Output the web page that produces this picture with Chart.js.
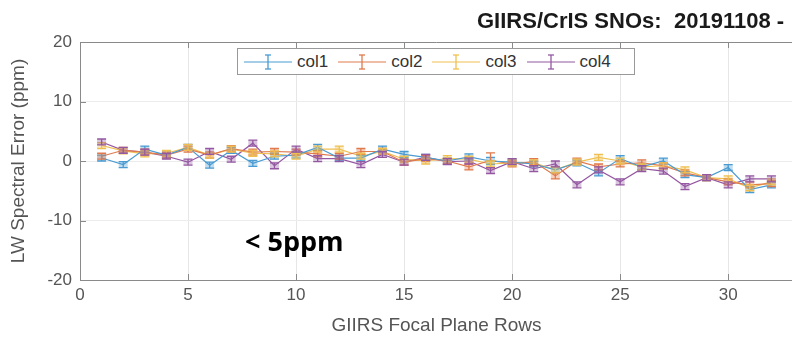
<!DOCTYPE html>
<html>
<head>
<meta charset="utf-8">
<script src="https://cdn.jsdelivr.net/npm/chart.js@4.4.1/dist/chart.umd.min.js"></script>
<style>
    body{margin:0;width:792px;height:337px;overflow:hidden;background:#fff;position:relative;font-family:"Liberation Sans",sans-serif}
    #wrap{position:absolute;left:0;top:0;width:830px;height:337px}
    .title{position:absolute;top:8px;font-size:22px;font-weight:bold;color:#1a1a1a;white-space:nowrap}
    #note{position:absolute;left:245px;top:227px;font-family:"Open Sans",sans-serif;font-weight:bold;font-size:27px;line-height:27px;color:#000}
    #legend{position:absolute;left:237px;top:48px;width:398px;height:27px;border:1px solid #999;background:#fff;box-sizing:border-box;display:flex;align-items:center;padding-left:6px}
    .item{display:flex;align-items:center;margin-right:10px;font-size:17px;color:#333}
    .item svg{margin-right:5px}
</style>
</head>
<body>
<div id="wrap"><canvas id="snoChart" width="830" height="337"></canvas></div>
<div class="title" style="left:477px">GIIRS/CrIS SNOs:</div>
<div class="title" style="left:674px">20191108 -</div>
<div id="legend"></div>
<div id="note">&lt; 5ppm</div>
<script>
    const rows = [1,2,3,4,5,6,7,8,9,10,11,12,13,14,15,16,17,18,19,20,21,22,23,24,25,26,27,28,29,30,31,32]
    const col1 = [0.5,-0.6,2.0,1.0,2.3,-0.7,1.8,-0.4,0.8,1.0,2.3,0.5,0.5,2.0,1.1,0.6,0.0,0.7,0.0,-0.2,-0.5,-1.5,-0.3,-2.0,0.4,-1.0,0.0,-2.3,-2.8,-1.1,-4.8,-4.0]
    const col2 = [0.8,1.8,1.5,1.0,2.0,1.0,2.1,1.5,1.6,1.5,1.2,0.8,1.6,1.6,-0.2,0.4,0.0,-1.0,0.1,-0.5,-0.1,-2.5,0.0,-1.0,-0.5,-0.3,-0.8,-2.0,-2.8,-3.5,-4.0,-3.8]
    const col3 = [2.6,1.7,1.2,1.3,2.3,1.0,2.0,1.3,1.2,0.8,2.0,2.0,0.8,1.6,0.3,0.0,0.4,0.3,-0.5,-0.3,-0.3,-1.5,-0.2,0.6,0.0,-1.0,-0.8,-1.5,-2.8,-3.0,-4.5,-3.5]
    const col4 = [3.2,1.8,1.5,0.8,-0.2,1.6,0.3,3.0,-0.8,2.0,0.4,0.4,-0.6,1.1,-0.2,0.6,-0.1,0.0,-1.6,-0.1,-1.3,-0.5,-4.0,-1.5,-3.5,-1.3,-1.7,-4.3,-2.8,-4.0,-3.0,-3.0]
    const err1 = [0.5,0.5,0.5,0.5,0.5,0.5,0.5,0.5,0.5,0.5,0.5,0.5,0.5,0.5,0.5,0.5,0.5,0.5,0.6,0.5,0.5,0.5,0.5,0.5,0.5,0.5,0.5,0.5,0.5,0.5,0.5,0.5]
    const err2 = [0.5,0.5,0.5,0.5,0.5,0.5,0.5,0.5,0.5,0.5,0.5,0.5,0.5,0.5,0.5,0.5,0.5,0.5,1.25,0.5,0.5,0.5,0.5,0.5,0.5,0.5,0.5,0.5,0.5,0.5,0.5,0.5]
    const err3 = [0.5,0.5,0.5,0.5,0.5,0.5,0.5,0.5,0.5,0.5,0.5,0.5,0.5,0.5,0.5,0.5,0.5,0.5,0.5,0.5,0.5,0.5,0.5,0.5,0.5,0.5,0.5,0.5,0.5,0.5,0.5,0.5]
    const err4 = [0.5,0.5,0.5,0.5,0.5,0.5,0.5,0.5,0.5,0.5,0.5,0.5,0.5,0.5,0.5,0.5,0.5,0.5,0.5,0.5,0.5,0.5,0.5,0.5,0.5,0.5,0.5,0.5,0.5,0.5,0.5,0.5]
    const xTicks = [0,5,10,15,20,25,30]
    const yTicks = [-20,-10,0,10,20]
    const names = ['col1','col2','col3','col4']
    const colors = ['#4a9bd2','#e07a4c','#efc050','#9458a2']
    const fills = ['rgba(74,155,210,0.35)','rgba(224,122,76,0.35)','rgba(239,192,80,0.35)','rgba(148,88,162,0.35)']

    const series = [col1,col2,col3,col4]
    const errs = [err1,err2,err3,err4]

    // legend in html
    const legend = document.getElementById('legend')
    names.forEach((n,i)=>{
        legend.innerHTML += `<div class="item"><svg width="48" height="20"><line x1="0" y1="10" x2="48" y2="10" stroke="${colors[i]}" stroke-width="1.2"/><line x1="24" y1="3" x2="24" y2="17" stroke="${colors[i]}" stroke-width="1.3"/><line x1="21" y1="3" x2="27" y2="3" stroke="${colors[i]}" stroke-width="1.3"/><line x1="21" y1="17" x2="27" y2="17" stroke="${colors[i]}" stroke-width="1.3"/></svg>${n}</div>`
    })

    const errorBars = {
        id:'errorBars',
        afterDatasetsDraw(chart){
            const c = chart.ctx, xs = chart.scales.x, ys = chart.scales.y
            chart.data.datasets.forEach((ds,d)=>{
                c.save()
                c.strokeStyle = colors[d]
                c.fillStyle = fills[d]
                c.lineWidth = 1.3
                rows.forEach((r,i)=>{
                    const x = xs.getPixelForValue(r)
                    const lo = ys.getPixelForValue(series[d][i]-errs[d][i])
                    const hi = ys.getPixelForValue(series[d][i]+errs[d][i])
                    if(errs[d][i] <= 0.6) c.fillRect(x-4.5,hi,9,lo-hi)
                    c.beginPath()
                    c.moveTo(x,lo); c.lineTo(x,hi)
                    c.moveTo(x-4.5,lo); c.lineTo(x+4.5,lo)
                    c.moveTo(x-4.5,hi); c.lineTo(x+4.5,hi)
                    c.stroke()
                })
                c.restore()
            })
        }
    }

    const boxTicks = {
        id:'boxTicks',
        afterDraw(chart){
            const c = chart.ctx, a = chart.chartArea, xs = chart.scales.x, ys = chart.scales.y
            c.save()
            c.strokeStyle = '#8a8a8a'
            c.lineWidth = 1
            c.beginPath()
            c.moveTo(a.left,a.top+0.5); c.lineTo(a.right,a.top+0.5)
            xTicks.forEach(t=>{
                const x = Math.round(xs.getPixelForValue(t))+0.5
                c.moveTo(x,a.bottom); c.lineTo(x,a.bottom-6)
                c.moveTo(x,a.top); c.lineTo(x,a.top+6)
            })
            yTicks.forEach(t=>{
                const y = Math.round(ys.getPixelForValue(t))+0.5
                c.moveTo(a.left,y); c.lineTo(a.left+6,y)
            })
            c.stroke()
            c.restore()
        }
    }

    const ctx = document.getElementById('snoChart').getContext('2d')
    new Chart(ctx, {
        type: 'line',
        data: {
            datasets: series.map((s,d)=>({
                label: names[d],
                data: rows.map((r,i)=>({x:r,y:s[i]})),
                borderColor: colors[d],
                borderWidth: 1.2,
                pointRadius: 0,
                tension: 0
            }))
        },
        options: {
            responsive: false,
            animation: false,
            layout: { padding: { top: 42, right: 37, left: 0, bottom: 0 } },
            scales: {
                x: {
                    type: 'linear',
                    min: 0, max: 33,
                    afterFit: s => { s.height = 57 },
                    afterBuildTicks: s => { s.ticks = xTicks.map(v=>({value:v})) },
                    ticks: { color: '#555', font: { family: '"Liberation Sans"', size: 17 }, padding: 5 },
                    grid: { color: '#e6e6e6', drawTicks: false },
                    border: { color: '#8a8a8a' },
                    title: { display: true, text: 'GIIRS Focal Plane Rows', color: '#555', font: { family: '"Liberation Sans"', size: 19 }, padding: { top: 0, bottom: 0 } }
                },
                y: {
                    min: -20, max: 20,
                    afterFit: s => { s.width = 80 },
                    afterBuildTicks: s => { s.ticks = yTicks.map(v=>({value:v})) },
                    ticks: { color: '#555', font: { family: '"Liberation Sans"', size: 17 }, padding: 8 },
                    grid: { color: '#ececec', drawTicks: false },
                    border: { color: '#8a8a8a' },
                    title: { display: true, text: 'LW Spectral Error (ppm)', color: '#555', font: { family: '"Liberation Sans"', size: 19 }, padding: { top: 7, bottom: 0 } }
                }
            },
            plugins: {
                legend: { display: false },
                tooltip: { enabled: false }
            }
        },
        plugins: [errorBars, boxTicks]
    });
</script>
</body>
</html>
